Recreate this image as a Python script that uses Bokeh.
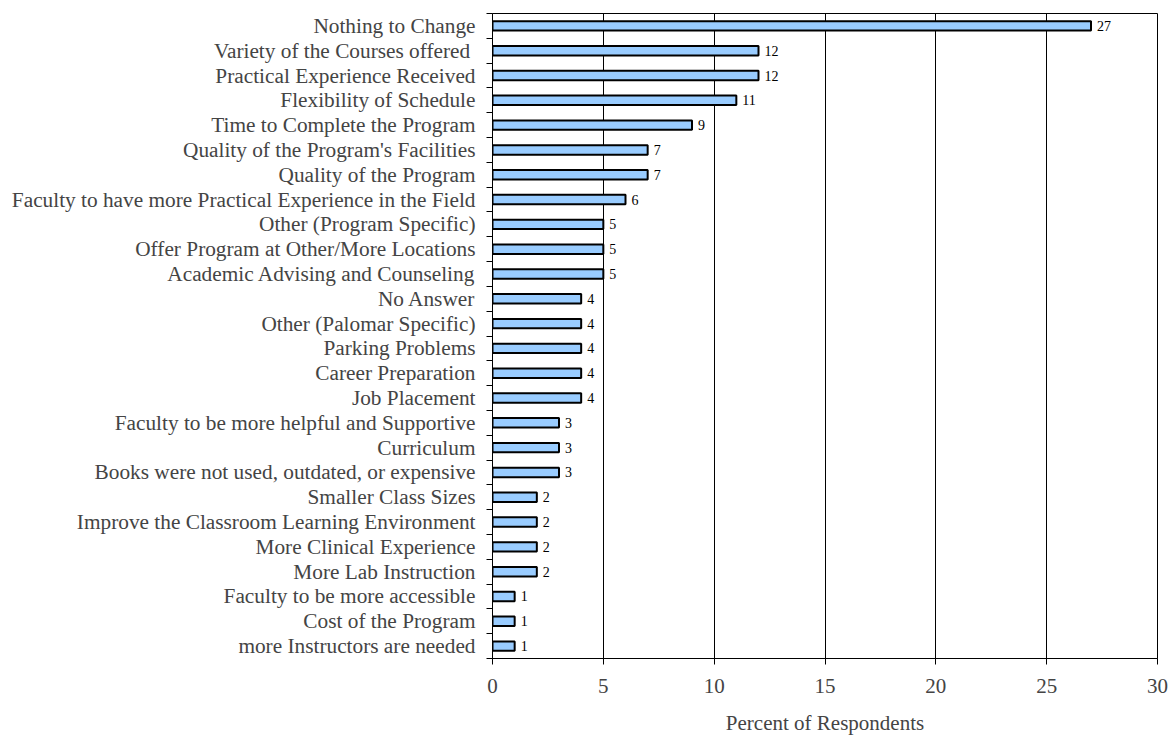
from bokeh.plotting import figure
from bokeh.models import ColumnDataSource, Range1d, FixedTicker
from bokeh.core.properties import value
from bokeh.embed import file_html
from bokeh.resources import INLINE

categories = [
    "Nothing to Change",
    "Variety of the Courses offered ",
    "Practical Experience Received",
    "Flexibility of Schedule",
    "Time to Complete the Program",
    "Quality of the Program's Facilities",
    "Quality of the Program",
    "Faculty to have more Practical Experience in the Field",
    "Other (Program Specific)",
    "Offer Program at Other/More Locations",
    "Academic Advising and Counseling",
    "No Answer",
    "Other (Palomar Specific)",
    "Parking Problems",
    "Career Preparation",
    "Job Placement",
    "Faculty to be more helpful and Supportive",
    "Curriculum",
    "Books were not used, outdated, or expensive",
    "Smaller Class Sizes",
    "Improve the Classroom Learning Environment",
    "More Clinical Experience",
    "More Lab Instruction",
    "Faculty to be more accessible",
    "Cost of the Program",
    "more Instructors are needed",
]
percents = [27, 12, 12, 11, 9, 7, 7, 6, 5, 5, 5, 4, 4, 4, 4, 4, 3, 3, 3, 2, 2, 2, 2, 1, 1, 1]
x_ticks = [0, 5, 10, 15, 20, 25, 30]

n = len(categories)
ypos = [n - i for i in range(n)]
src = ColumnDataSource(dict(y=ypos, v=percents, lab=[str(v) for v in percents], cat=categories))

FONT = "Liberation Serif"

p = figure(width=1171, height=738, output_backend="svg", toolbar_location=None,
           x_range=Range1d(0, 30), y_range=Range1d(0.5, n + 0.5),
           min_border_left=492, min_border_right=14, min_border_top=13, min_border_bottom=80)
p.outline_line_color = "black"
p.outline_line_width = 1
p.background_fill_color = "white"
p.border_fill_color = "white"

p.hbar(y="y", right="v", left=0, height=0.38, source=src,
       fill_color="#99CCFF", line_color="black", line_width=2)
p.text(x="v", y="y", text="lab", source=src, x_offset=6,
       text_font=value(FONT), text_font_size="14px", text_baseline="middle",
       text_align="left", text_color="black")

# x axis
p.xaxis.ticker = FixedTicker(ticks=x_ticks)
p.xaxis.axis_label = "Percent of Respondents"
p.xaxis.axis_label_text_font = FONT
p.xaxis.axis_label_text_font_style = "normal"
p.xaxis.axis_label_text_font_size = "21px"
p.xaxis.axis_label_standoff = 15
p.xaxis.major_label_text_font = FONT
p.xaxis.major_label_text_font_size = "21px"
p.xaxis.major_label_standoff = 14
p.xaxis.major_tick_out = 6
p.xaxis.major_tick_in = 0
p.xaxis.minor_tick_out = 0
p.xaxis.minor_tick_in = 0
p.xaxis.axis_line_color = "black"
p.xaxis.major_tick_line_color = "black"

# y axis: labels at bar centers, ticks at category boundaries
p.yaxis.ticker = FixedTicker(ticks=ypos, minor_ticks=[k + 0.5 for k in range(n + 1)])
p.yaxis.major_label_overrides = {y: c for y, c in zip(ypos, categories)}
p.yaxis.major_label_text_font = FONT
p.yaxis.major_label_text_font_size = "21.3px"
p.yaxis.major_tick_out = 0
p.yaxis.major_tick_in = 0
p.yaxis.minor_tick_out = 6
p.yaxis.minor_tick_in = 0
p.yaxis.minor_tick_line_color = "black"
p.yaxis.major_label_standoff = 11
p.yaxis.axis_line_color = "black"

p.xgrid.ticker = FixedTicker(ticks=x_ticks)
p.xgrid.grid_line_color = "black"
p.xgrid.grid_line_width = 1
p.ygrid.grid_line_color = None

open("out.html", "w").write(file_html(p, INLINE))
